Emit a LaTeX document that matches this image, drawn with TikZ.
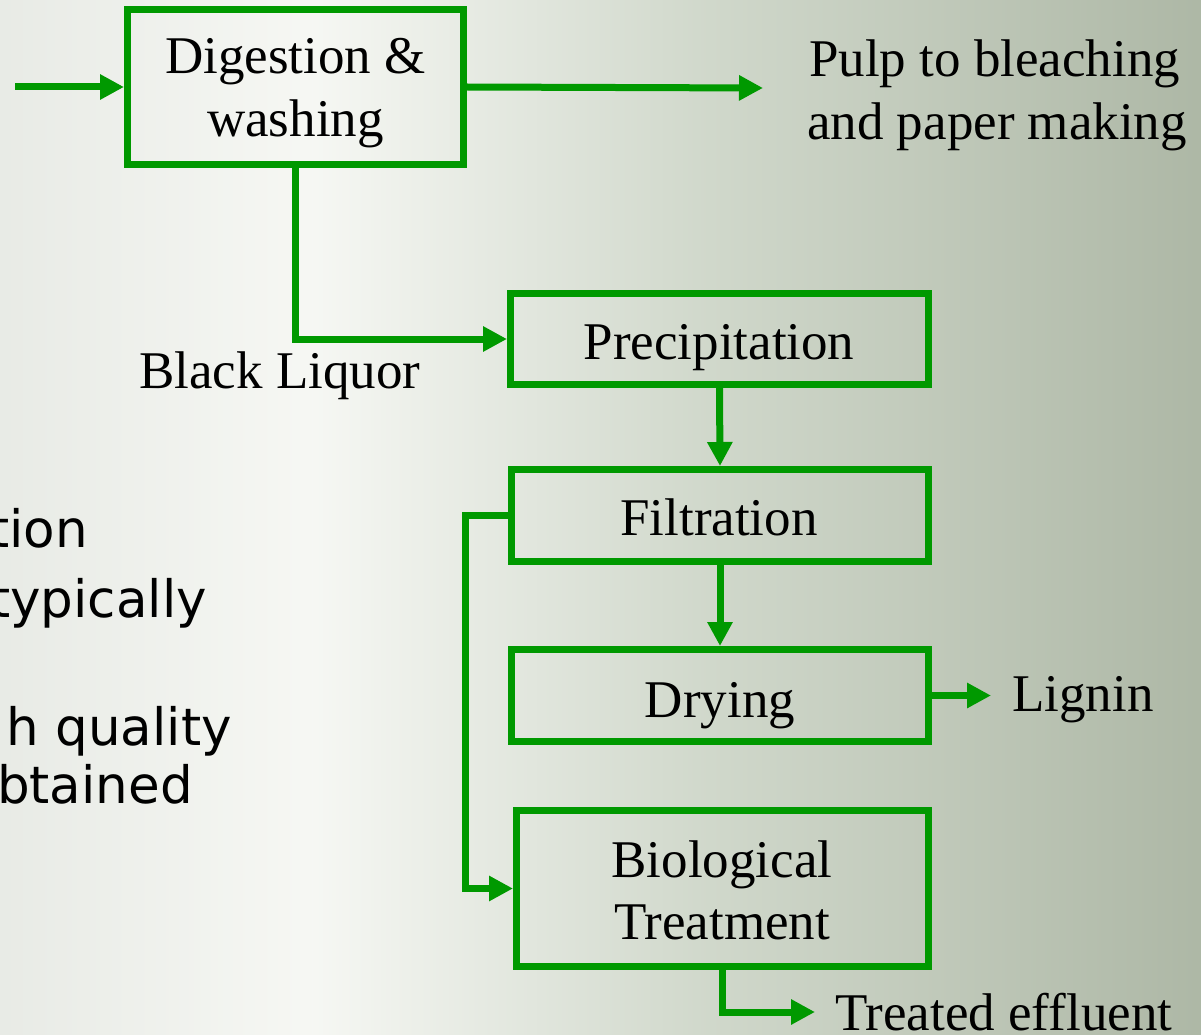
\documentclass[tikz,border=0pt]{standalone}
\usepackage{fontspec}
\setmainfont{Liberation Serif}
\newfontfamily\slidesans{DejaVu Sans}
\usetikzlibrary{arrows.meta}
\definecolor{flowgreen}{RGB}{0,153,0}
\pgfdeclarehorizontalshading{slidebg}{100bp}{rgb(0bp)=(0.91,0.92,0.90); rgb(25bp)=(0.91,0.92,0.90); rgb(38bp)=(0.965,0.97,0.955); rgb(54bp)=(0.82,0.85,0.80); rgb(75bp)=(0.68,0.72,0.65); rgb(100bp)=(0.68,0.72,0.65)}
\begin{document}
\begin{tikzpicture}[x=1pt,y=-1pt,
  box/.style={draw=flowgreen, line width=7pt, inner sep=0pt, fill=none},
  flow/.style={draw=flowgreen, line width=7pt, -{Triangle[length=24pt,width=24pt]}},
  lbl/.style={font=\fontsize{53pt}{62pt}\selectfont, inner sep=0pt, text=black, anchor=base},
  lblw/.style={lbl, anchor=base west},
  side/.style={font=\slidesans\fontsize{51.5pt}{60pt}\selectfont, inner sep=0pt, text=black, anchor=base east}]
\useasboundingbox (0,0) rectangle (1201,1035);
\shade[shading=slidebg] (0,0) rectangle (1201,1035);

% left slide text (cut off at the left edge, as in the slide)
\node[side] (s1) at (88,547) {tion};
\node[side] (s2) at (207,617) {typically};
\node[side] (s3) at (232,745) {h quality};
\node[side] (s4) at (193,803) {btained};

% boxes
\node[box, minimum width=336pt, minimum height=155pt] (dig) at (295.5,87) {};
\node[box, minimum width=418pt, minimum height=91pt] (prec) at (719.5,339) {};
\node[box, minimum width=417pt, minimum height=92pt] (filt) at (720,515.5) {};
\node[box, minimum width=417pt, minimum height=92pt] (dry) at (720,695.5) {};
\node[box, minimum width=412pt, minimum height=156pt] (bio) at (722.5,888.5) {};

% box texts
\node[lbl] (digA) at (295.5,74) {Digestion \&};
\node[lbl] (digB) at (295.5,137) {washing};
\node[lbl] (precT) at (719,359) {Precipitation};
\node[lbl] (filtT) at (719,535) {Filtration};
\node[lbl] (dryT) at (720,717) {Drying};
\node[lbl] (bioA) at (722,877) {Biological};
\node[lbl] (bioB) at (722,939) {Treatment};

% free labels
\node[lblw] (pulpA) at (809,77) {Pulp to bleaching};
\node[lblw] (pulpB) at (807,140) {and paper making};
\node[lblw] (bl) at (139,388) {Black Liquor};
\node[lblw] (lig) at (1012,711) {Lignin};
\node[lblw] (eff) at (835,1030) {Treated effluent};

% connector ends
\coordinate (feed) at (15,87);
\coordinate (pulptip) at (763,88);
\coordinate (ligtip) at (991,695.5);
\coordinate (efftip) at (815,1012);

% connectors
\draw[flow] (feed) -- (dig.west);
\draw[flow] (dig.east) -- (pulptip);
\draw[flow] (dig.south) |- (prec.west);
\draw[flow] (prec.south) -- (filt.north);
\draw[flow] (filt.south) -- (dry.north);
\draw[flow] (filt.west) -- ++(-43,0) |- (bio.west);
\draw[flow] (dry.east) -- (ligtip);
\draw[flow] (bio.south) |- (efftip);
\end{tikzpicture}
\end{document}
